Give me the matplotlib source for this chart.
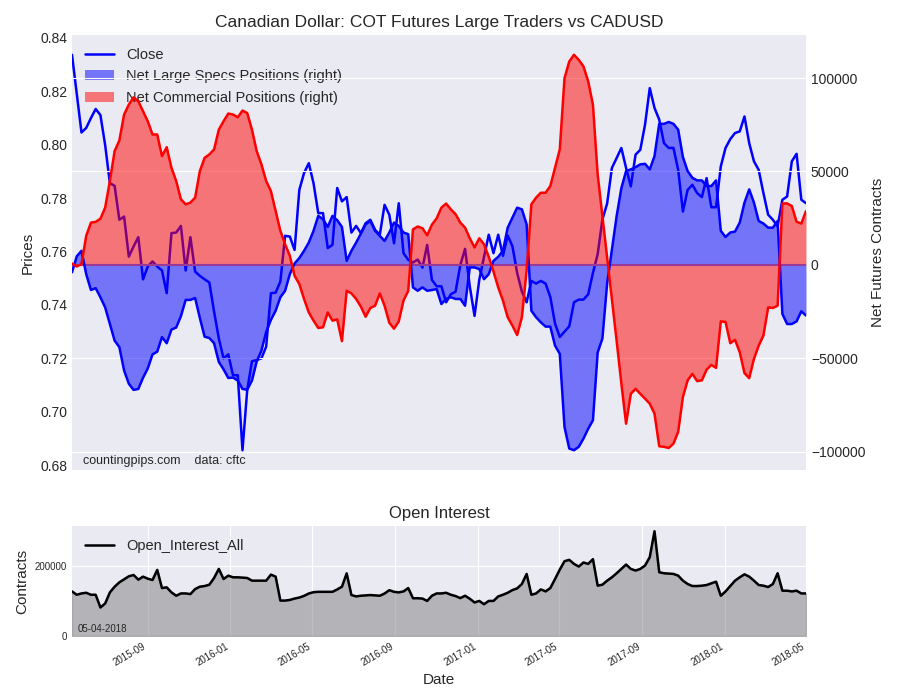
import numpy as np
import pandas as pd
import matplotlib
matplotlib.use("Agg")
import matplotlib.pyplot as plt
import matplotlib.dates as mdates
from matplotlib.patches import Patch
from matplotlib.lines import Line2D

# weekly COT report dates (Tuesdays)
dates = pd.date_range("2015-05-12", periods=156, freq="7D")

close = [
    0.8337, 0.8190, 0.8046, 0.8063, 0.8100, 0.8134, 0.8111, 0.7999, 0.7856, 0.7846,
    0.7719, 0.7731, 0.7581, 0.7619, 0.7654, 0.7496, 0.7544, 0.7563, 0.7544, 0.7529,
    0.7444, 0.7669, 0.7671, 0.7696, 0.7529, 0.7654, 0.7525, 0.7509, 0.7496, 0.7484,
    0.7375, 0.7275, 0.7200, 0.7215, 0.7137, 0.7137, 0.6856, 0.7081, 0.7189, 0.7194,
    0.7200, 0.7244, 0.7444, 0.7446, 0.7488, 0.7659, 0.7656, 0.7606, 0.7831, 0.7894,
    0.7931, 0.7856, 0.7744, 0.7744, 0.7613, 0.7625, 0.7838, 0.7788, 0.7804, 0.7671,
    0.7696, 0.7669, 0.7706, 0.7719, 0.7681, 0.7663, 0.7775, 0.7738, 0.7631, 0.7781,
    0.7594, 0.7569, 0.7559, 0.7570, 0.7540, 0.7625, 0.7494, 0.7470, 0.7470, 0.7410,
    0.7440, 0.7450, 0.7550, 0.7610, 0.7469, 0.7359, 0.7494, 0.7580, 0.7663, 0.7594,
    0.7663, 0.7584, 0.7660, 0.7620, 0.7520, 0.7450, 0.7410, 0.7490, 0.7480, 0.7490,
    0.7480, 0.7430, 0.7330, 0.7280, 0.7300, 0.7320, 0.7410, 0.7420, 0.7420, 0.7440,
    0.7520, 0.7590, 0.7720, 0.7780, 0.7913, 0.7950, 0.7988, 0.7913, 0.7844, 0.7963,
    0.7981, 0.8075, 0.8212, 0.8138, 0.8094, 0.8006, 0.7988, 0.7988, 0.7906, 0.7750,
    0.7831, 0.7850, 0.7819, 0.7804, 0.7875, 0.7766, 0.7766, 0.7919, 0.7988, 0.8021,
    0.8044, 0.8050, 0.8106, 0.8006, 0.7938, 0.7906, 0.7819, 0.7738, 0.7719, 0.7694,
    0.7794, 0.7806, 0.7938, 0.7966, 0.7794, 0.7781,
]

specs = [
    -4000, 4500, 7500, -5000, -13500, -12500, -17400, -22800, -31700, -40600,
    -44100, -56600, -63700, -67000, -66500, -60500, -55500, -48000, -46500, -38700,
    -42000, -34700, -33600, -27500, -18800, -18800, -17800, -28500, -38500, -39200,
    -42000, -52000, -56000, -60600, -60400, -62000, -66500, -66900, -62000, -51800,
    -46000, -36000, -29500, -24600, -17400, -13900, -5000, 700, 3600, 7500,
    11900, 18200, 26200, 24400, 20300, 26200, 23900, 20300, 2100, 7500,
    11900, 16700, 21700, 23500, 18200, 15500, 12800, 17300, 22600, 20800,
    17300, 16400, -12100, -13900, -12100, -13900, -13500, -13000, -21000, -18300,
    -17400, -18300, -18300, -21900, -1400, -1400, -2300, -7700, -5000, 2100,
    4300, 7500, 19900, 25300, 30600, 29700, 21700, -24600, -28100, -30800,
    -33100, -33100, -43300, -47700, -86900, -98400, -99300, -97500, -93100, -87800,
    -83300, -47000, -39500, -10000, 8000, 26000, 41000, 50200, 51100, 52300,
    53800, 54100, 51100, 58200, 75500, 75500, 76500, 75500, 72400, 57700,
    50200, 46600, 45200, 45200, 42200, 42200, 45200, 18200, 14900, 17300,
    17800, 22600, 33300, 40400, 33300, 23500, 22100, 19900, 19900, 23500,
    -26300, -31700, -31700, -30300, -24900, -27200,
]

commercial = [
    700, -900, 400, 15500, 22600, 23000, 24700, 30600, 44900, 60900,
    66600, 80500, 85800, 89700, 87600, 82200, 76900, 69800, 69800, 58200,
    63000, 52000, 44900, 35100, 32400, 33300, 36000, 50200, 57300, 59100,
    61800, 72400, 76900, 81000, 80500, 79000, 82600, 81300, 72400, 60900,
    53800, 44900, 39500, 28800, 18200, 11000, 4800, -5900, -10300, -18300,
    -25500, -29900, -33800, -33500, -25500, -29900, -29200, -40900, -13900, -15300,
    -18300, -22400, -27800, -23100, -21900, -15300, -21900, -31000, -34200, -30300,
    -19200, -13900, 19000, 20500, 19600, 15800, 21500, 24900, 30600, 32800,
    29700, 27100, 22600, 19900, 14200, 9300, 14200, 11000, 4300, -3600,
    -12100, -19200, -28100, -32600, -37600, -28100, -3000, 32400, 36000, 38600,
    38600, 42200, 52000, 61800, 100000, 108900, 112500, 109800, 106300, 98300,
    85800, 48400, 26200, 3900, -18300, -40600, -63500, -85100, -69100, -66400,
    -69100, -71700, -74400, -79700, -97200, -97500, -98100, -95800, -89500, -70800,
    -61900, -58400, -62300, -61900, -56200, -53600, -55200, -30300, -30600, -42000,
    -40200, -46800, -58000, -60700, -50400, -43300, -37900, -22800, -23100, -21900,
    32800, 32900, 31500, 23100, 22100, 28800,
]

open_interest = [
    127900, 118300, 122100, 124000, 118300, 118300, 81800, 93300, 125100, 141400,
    153900, 162500, 171200, 175000, 161600, 170200, 164400, 160600, 189500, 137500,
    139500, 125100, 115500, 122100, 122100, 120200, 134600, 141400, 143300, 147100,
    166400, 192400, 163500, 173100, 168300, 168300, 167300, 166400, 158700, 158700,
    158700, 158700, 176000, 170200, 101600, 101600, 103500, 107400, 110300, 115100,
    121900, 125700, 126700, 126700, 126700, 126700, 133500, 141400, 179600, 117400,
    113600, 115500, 116400, 117400, 116400, 115500, 121900, 131400, 126700, 125100,
    127900, 137500, 108300, 108300, 107400, 100600, 115500, 122100, 122100, 124000,
    118300, 114500, 108700, 115500, 106800, 96200, 100600, 91200, 100600, 100600,
    113500, 118300, 124000, 131700, 136600, 149100, 177900, 118300, 122100, 133600,
    127900, 137500, 163500, 190400, 214500, 218400, 206800, 199100, 210700, 206800,
    220300, 144300, 147200, 158700, 168300, 179900, 192400, 204900, 192400, 187600,
    192400, 202000, 226100, 300400, 182800, 179900, 179000, 178000, 173100, 158700,
    149100, 143300, 143300, 144300, 146200, 151000, 155800, 115500, 127900, 143300,
    158700, 168300, 176900, 170200, 158700, 146200, 144300, 140500, 149100, 179900,
    129900, 129900, 127900, 129900, 122100, 122100,
]

plt.style.use("seaborn-v0_8-darkgrid")
plt.rcParams["font.family"] = ["Liberation Sans", "DejaVu Sans"]

fig = plt.figure(figsize=(9, 7), dpi=100)
ax1 = fig.add_axes([0.08, 0.3286, 0.8156, 0.6214])
ax2 = ax1.twinx()
ax3 = fig.add_axes([0.08, 0.0914, 0.8156, 0.1572])

# price on the left axis
ax1.plot(dates, close, color="blue", lw=1.8, label="Close")
ax1.set_ylabel("Prices", fontsize=11)
ax1.grid(False)
ax1.tick_params(axis="x", which="both", bottom=False, labelbottom=False)

# positions on the right axis
ax2.fill_between(dates, 0, specs, color="blue", alpha=0.5, lw=0)
ax2.fill_between(dates, 0, commercial, color="red", alpha=0.5, lw=0)
ax2.axhline(0, color="#9a3a98", lw=1.5)
ax2.plot(dates, specs, color="blue", lw=1.8)
ax2.plot(dates, commercial, color="red", lw=1.8)
ax2.set_ylabel("Net Futures Contracts", fontsize=11, labelpad=4)
ax2.grid(True, axis="y", color="white")
ax2.grid(False, axis="x")
ax2.set_yticks([-100000, -50000, 0, 50000, 100000])
ax1.set_xlim(dates[0], dates[-1])

handles = [
    Line2D([], [], color="blue", lw=1.8),
    Patch(facecolor="blue", alpha=0.5),
    Patch(facecolor="red", alpha=0.5),
]
ax1.legend(handles, ["Close", "Net Large Specs Positions (right)",
                     "Net Commercial Positions (right)"],
           loc="upper left", fontsize=10.5, frameon=False)
ax1.set_title("Canadian Dollar: COT Futures Large Traders vs CADUSD", fontsize=12.5)
ax1.text(0.015, 0.008, "countingpips.com    data: cftc", transform=ax1.transAxes,
         fontsize=9, va="bottom")

# open interest panel
ax3.fill_between(dates, 0, open_interest, color="gray", alpha=0.5)
ax3.plot(dates, open_interest, color="black", lw=1.8, label="Open_Interest_All")
ax3.set_xlim(dates[0], dates[-1])
ax3.set_ylim(bottom=0)
ax3.set_yticks([0, 200000])
ax3.tick_params(axis="y", labelsize=7)
ax3.tick_params(axis="x", labelsize=7)
ax3.xaxis.set_major_locator(mdates.MonthLocator(bymonth=[1, 5, 9]))
ax3.xaxis.set_major_formatter(mdates.DateFormatter("%Y-%m"))
for lab in ax3.get_xticklabels():
    lab.set_rotation(30)
    lab.set_ha("right")
ax3.set_title("Open Interest", fontsize=12)
ax3.set_ylabel("Contracts", fontsize=11)
ax3.set_xlabel("Date", fontsize=11)
ax3.legend(loc="upper left", fontsize=10.5, frameon=False)
ax3.text(0.008, 0.02, "05-04-2018", transform=ax3.transAxes, fontsize=7, va="bottom")

fig.savefig("out.png", dpi=100)
